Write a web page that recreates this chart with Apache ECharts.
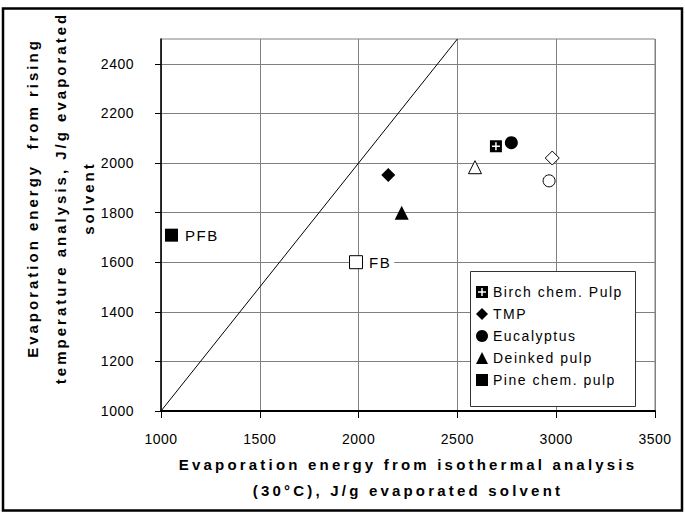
<!DOCTYPE html>
<html><head><meta charset="utf-8">
<script src="https://cdn.jsdelivr.net/npm/echarts@6/dist/echarts.min.js"></script>
<style>html,body{margin:0;padding:0;background:#fff;} #chart{width:685px;height:515px;}</style>
</head><body><div id="chart"></div>
<script>
// ---- data ----
const xTicks = [1000, 1500, 2000, 2500, 3000, 3500];
const yTicks = [1000, 1200, 1400, 1600, 1800, 2000, 2200, 2400];
const seriesNames = ['Birch chem. Pulp', 'TMP', 'Eucalyptus', 'Deinked pulp', 'Pine chem. pulp'];
const birchX = [2695];        const birchY = [2068];        const birchOpen = [false];
const tmpX = [2150, 2980];    const tmpY = [1952, 2020];    const tmpOpen = [false, true];
const eucX = [2773, 2964];    const eucY = [2082, 1928];    const eucOpen = [false, true];
const deinkX = [2218, 2589];  const deinkY = [1799, 1983];  const deinkOpen = [false, true];
const pineX = [1053, 1987];   const pineY = [1709, 1600];   const pineOpen = [false, true];
const pineLabels = ['PFB', 'FB'];
const diagX = [1000, 2500];   const diagY = [1000, 2500];
const xTitle = ['Evaporation energy from isothermal analysis', '(30\u00B0C), J/g evaporated solvent'];
const yTitle = ['Evaporation energy  from rising', 'temperature analysis, J/g evaporated', 'solvent'];

// ---- styling ----
const FONT = 'Arial, "Liberation Sans", sans-serif';
const birchPath = 'path://M0,0H12V12H0Z M5.25,2L5.25,5.25L2,5.25L2,6.75L5.25,6.75L5.25,10L6.75,10L6.75,6.75L10,6.75L10,5.25L6.75,5.25L6.75,2Z';
const symbols = [birchPath, 'diamond', 'circle', 'triangle', 'rect'];
const sizes = [[12, 12], [14, 14], [13, 13], [14, 14], [13, 13]];
const openSizes = [[12, 12], [14, 14], [12, 12], [13, 13], [13, 13]];
const xs = [birchX, tmpX, eucX, deinkX, pineX];
const ys = [birchY, tmpY, eucY, deinkY, pineY];
const opens = [birchOpen, tmpOpen, eucOpen, deinkOpen, pineOpen];

function buildData(k) {
  return xs[k].map((x, i) => {
    const item = { value: [x, ys[k][i]] };
    if (opens[k][i]) {
      item.symbolSize = openSizes[k];
      item.itemStyle = { color: '#fff', borderColor: '#000', borderWidth: 1 };
    }
    if (k === 4) {
      item.label = {
        show: true, position: 'right', formatter: pineLabels[i],
        fontFamily: FONT, fontSize: 15, color: '#000'
      };
      if (opens[k][i]) {
        Object.assign(item.label, { distance: 0, backgroundColor: '#fff', padding: [2, 6, 2, 6] });
      } else {
        item.label.distance = 7;
      }
    }
    return item;
  });
}

const scatterSeries = seriesNames.map((name, k) => ({
  name, type: 'scatter', symbol: symbols[k], symbolSize: sizes[k],
  itemStyle: { color: '#000', opacity: 1 },
  data: buildData(k), z: 5
}));

const plain = v => String(v);

const chart = echarts.init(document.getElementById('chart'), null, { renderer: 'svg' });
chart.setOption({
  animation: false,
  backgroundColor: '#fff',
  grid: { left: 161, right: 30, top: 39, bottom: 104, show: true, borderColor: '#808080', borderWidth: 1 },
  xAxis: {
    type: 'value', min: 1000, max: 3500, interval: 500,
    axisLine: { show: true, onZero: false, lineStyle: { color: '#000', width: 2 } },
    axisTick: { show: true, length: 7, lineStyle: { color: '#000', width: 1 } },
    axisLabel: { margin: 21, fontFamily: FONT, fontSize: 14, color: '#000', customValues: xTicks, formatter: plain },
    splitLine: { show: true, lineStyle: { color: '#808080', width: 1 } }
  },
  yAxis: {
    type: 'value', min: 1000, max: 2500, interval: 200,
    axisLine: { show: true, onZero: false, lineStyle: { color: '#000', width: 1.5 } },
    axisTick: { show: true, length: 6, lineStyle: { color: '#000', width: 1 }, customValues: yTicks },
    axisLabel: { margin: 27, fontFamily: FONT, fontSize: 14, color: '#000', customValues: yTicks, formatter: plain },
    splitLine: { show: true, lineStyle: { color: '#808080', width: 1 } }
  },
  legend: {
    orient: 'vertical', left: 470, top: 271, padding: [14, 7, 10, 6],
    itemGap: 8, itemWidth: 12, itemHeight: 12, itemTextGap: 10,
    textStyle: { fontFamily: FONT, fontSize: 14, color: '#000', lineHeight: 14 },
    data: seriesNames.map((n, k) => ({ name: n, icon: symbols[k] })),
    z: 6
  },
  graphic: [
    { type: 'rect', z: 4, shape: { x: 470.5, y: 271.5, width: 165, height: 135 },
      style: { fill: '#fff', stroke: '#333', lineWidth: 1 } },
    { type: 'rect', z: 10, shape: { x: 3, y: 8.5, width: 679, height: 502 },
      style: { fill: 'none', stroke: '#000', lineWidth: 2.5 } },
    { type: 'text', x: 408, y: 477,
      style: { text: xTitle.join('\n'), font: 'bold 15px ' + FONT, fill: '#000',
               align: 'center', verticalAlign: 'middle', lineHeight: 26 } },
    { type: 'text', x: 60, y: 198, rotation: Math.PI / 2,
      style: { text: yTitle.join('\n'), font: 'bold 15px ' + FONT, fill: '#000',
               align: 'center', verticalAlign: 'middle', lineHeight: 28 } }
  ],
  series: [
    { name: 'diagonal', type: 'line', data: diagX.map((x, i) => [x, diagY[i]]),
      showSymbol: false, symbol: 'none', lineStyle: { color: '#000', width: 1 }, z: 3, silent: true }
  ].concat(scatterSeries)
});

function applySpacing() {
  const spacing = {};
  xTitle.forEach(t => spacing[t] = 3.2);
  yTitle.forEach(t => spacing[t] = 3);
  seriesNames.forEach(t => spacing[t] = 1.5);
  pineLabels.forEach(t => spacing[t] = 1.5);
  xTicks.concat(yTicks).forEach(t => spacing[String(t)] = 0.5);
  document.querySelectorAll('#chart svg text').forEach(el => {
    const s = spacing[el.textContent.trim()];
    if (s !== undefined) el.setAttribute('letter-spacing', s);
  });
}
chart.on('finished', applySpacing);
setTimeout(applySpacing, 50);
</script>
</body></html>
